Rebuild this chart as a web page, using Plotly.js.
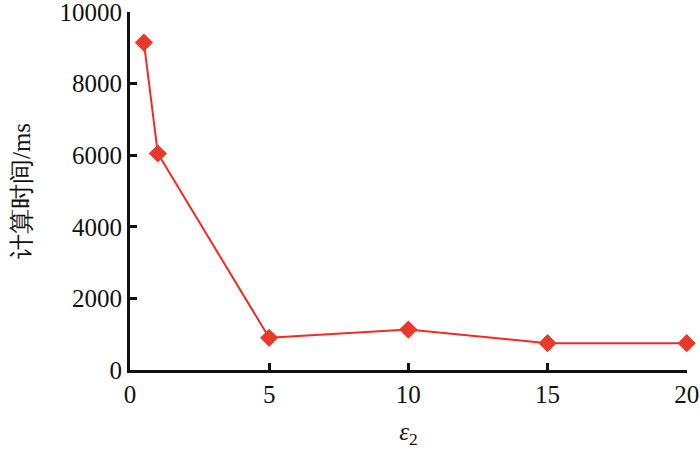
<!DOCTYPE html>
<html>
<head>
<meta charset="utf-8">
<script src="https://cdn.plot.ly/plotly-3.0.1.min.js"></script>
<style>
  html, body { margin: 0; padding: 0; background: #fff; }
  #chart { width: 700px; height: 460px; }
</style>
</head>
<body>
<div id="chart"></div>
<script>
// epsilon_2 values and computation time (ms)
const eps2 = [0.5, 1, 5, 10, 15, 20];
const timeMs = [9150, 6050, 900, 1130, 750, 750];
const xTicks = [0, 5, 10, 15, 20];
const yTicks = [0, 2000, 4000, 6000, 8000, 10000];

const serif = 'Liberation Serif';

const trace = {
    type: 'scatter',
    mode: 'lines+markers',
    x: eps2,
    y: timeMs,
    line: { color: '#ee2b24', width: 2 },
    marker: { symbol: 'diamond', size: 14, color: '#e8392b' },
    cliponaxis: false,
    hoverinfo: 'skip'
};

function axis(extra) {
    return Object.assign({
        showline: true, linecolor: '#111', linewidth: 3,
        ticks: 'inside', ticklen: 7, tickwidth: 3, tickcolor: '#111',
        showgrid: false, zeroline: false,
        ticklabeloverflow: 'allow',
        tickfont: { family: serif, size: 25, color: '#111' }
    }, extra);
}

const layout = {
    width: 700,
    height: 460,
    margin: { l: 130, r: 13, t: 12, b: 90 },
    paper_bgcolor: '#fff',
    plot_bgcolor: '#fff',
    showlegend: false,
    font: { family: serif, size: 25, color: '#111' },
    xaxis: axis({
        range: [0, 20.01],
        tickvals: xTicks,
        ticktext: xTicks.map(String),
        title: { text: '<i>ε</i><sub>2</sub>', font: { family: serif, size: 25, color: '#111' }, standoff: 16 }
    }),
    yaxis: axis({
        range: [0, 10005],
        tickvals: yTicks,
        ticktext: yTicks.map(String),
        // CJK glyphs fall back from the serif family to an installed CJK font
        title: { text: '计算时间/ms', font: { family: serif, size: 25, color: '#111' }, standoff: 22 }
    })
};

Plotly.newPlot('chart', [trace], layout, { staticPlot: true });
</script>
</body>
</html>
